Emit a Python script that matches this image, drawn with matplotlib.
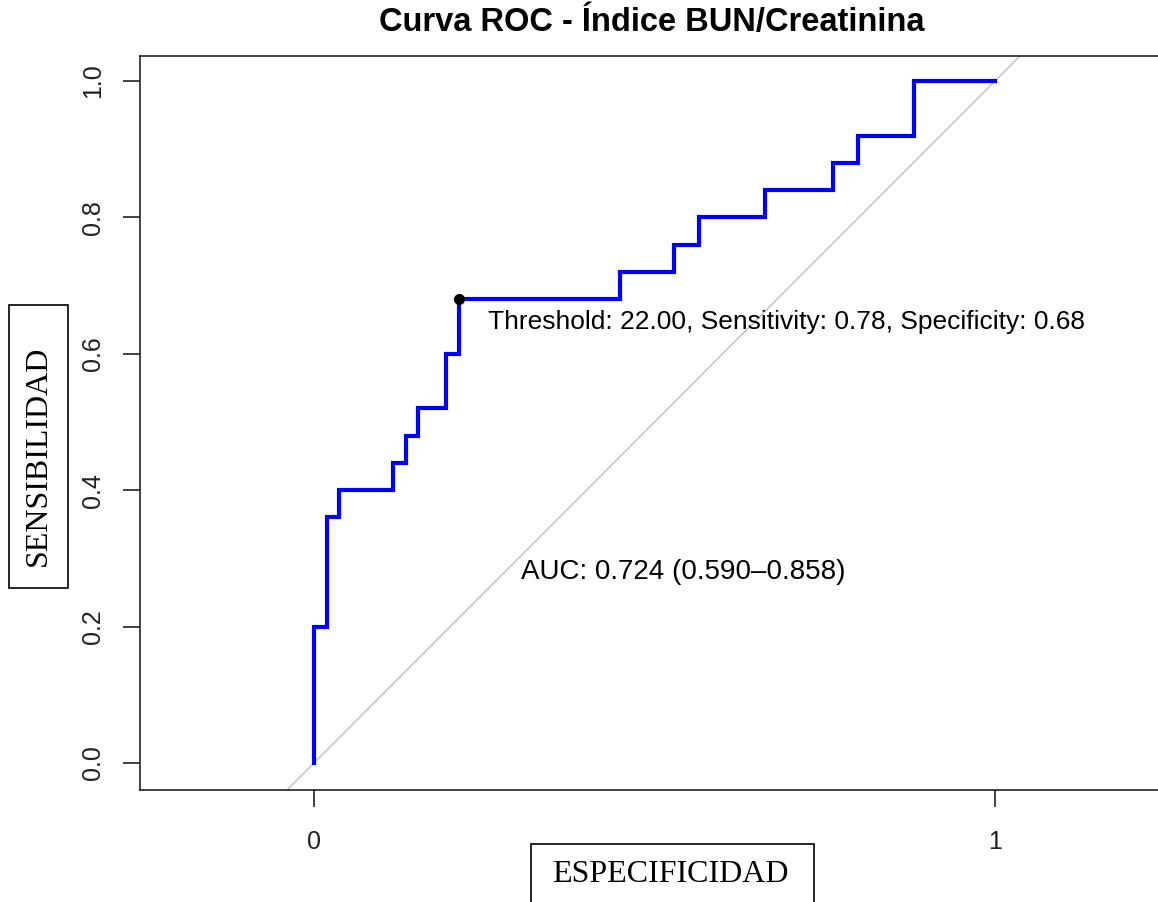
import matplotlib.pyplot as plt
from matplotlib.patches import Rectangle

# ROC curve corners (x = 1 - specificity, y = sensitivity)
fpr = [0, 0, 0.019, 0.037, 0.116, 0.135, 0.153, 0.194, 0.213,
       0.449, 0.529, 0.565, 0.662, 0.762, 0.799, 0.881, 1.0]
tpr = [0, 0.20, 0.36, 0.40, 0.44, 0.48, 0.52, 0.60, 0.68,
       0.72, 0.76, 0.80, 0.84, 0.88, 0.92, 1.0, 1.0]

best_point = (0.213, 0.68)
best_label = "Threshold: 22.00, Sensitivity: 0.78, Specificity: 0.68"
auc_label = "AUC: 0.724 (0.590\u20130.858)"
y_ticks = [0.0, 0.2, 0.4, 0.6, 0.8, 1.0]
x_ticks = [0, 1]

W, H = 1158, 902
fig = plt.figure(figsize=(W / 100, H / 100), dpi=100)
plt.rcParams['font.family'] = ['Liberation Sans', 'DejaVu Sans']

# axes box in pixels: left 140, right 1160, top 56, bottom 790
ax = fig.add_axes([140 / W, (H - 790) / H, (1160 - 140) / W, (790 - 56) / H])
ax.set_xlim(-0.2555, 1.2423)
ax.set_ylim(-0.0396, 1.0367)

# diagonal reference
ax.axline((0, 0), (1, 1), color='#BEBEBE', lw=1.0, zorder=1)

# ROC curve
ax.plot(fpr, tpr, drawstyle='steps-post', color='#0000FF', lw=3, zorder=2,
        solid_joinstyle='miter')
ax.plot(*best_point, marker='o', color='black', markersize=7, zorder=3)

ax.text(0.2555, 0.6466, best_label, fontsize=19, ha='left', va='center')
ax.text(0.5426, 0.280, auc_label, fontsize=20, ha='center', va='center')

for s in ax.spines.values():
    s.set_linewidth(1.2)
    s.set_color('#222222')

ax.set_yticks(y_ticks)
ax.set_yticklabels([f"{v:.1f}" for v in y_ticks], rotation=90, va='center')
ax.set_xticks(x_ticks)
ax.set_xticklabels([str(v) for v in x_ticks])
ax.tick_params(axis='both', length=12, width=1.2, color='#222222',
               labelsize=18, labelcolor='#222222')
ax.tick_params(axis='y', pad=13)
ax.tick_params(axis='x', pad=17)

fig.text(652 / W, 1 - 22 / H, "Curva ROC - \u00cdndice BUN/Creatinina",
         fontsize=23.5, fontweight='bold', ha='center', va='center')

# boxed axis labels
fig.patches.append(Rectangle((531 / W, (H - 905) / H), 283 / W, 61 / H,
                             transform=fig.transFigure, fill=False,
                             edgecolor='black', lw=1.2))
fig.text(670 / W, 1 - 874 / H, "ESPECIFICIDAD", family='Liberation Serif',
         fontsize=23, ha='center', va='center')

fig.patches.append(Rectangle((9 / W, (H - 588) / H), 59 / W, 283 / H,
                             transform=fig.transFigure, fill=False,
                             edgecolor='black', lw=1.2))
fig.text(38.5 / W, 1 - 456 / H, "SENSIBILIDAD", family='Liberation Serif',
         fontsize=23, rotation=90, ha='center', va='center')

plt.savefig('out.png', dpi=100)
